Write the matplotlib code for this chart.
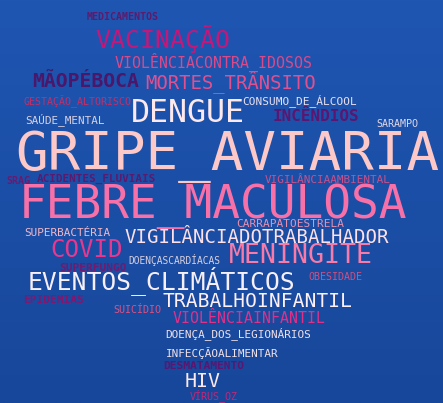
import numpy as np
import matplotlib
matplotlib.use("Agg")
import matplotlib.pyplot as plt
from matplotlib.colors import LinearSegmentedColormap

# words and their weights (font size in pt)
words = ["MEDICAMENTOS", "VACINAÇÃO", "VIOLÊNCIACONTRA_IDOSOS", "MÃOPÉBOCA",
         "MORTES_TRÂNSITO", "GESTAÇÃO_ALTORISCO", "DENGUE", "CONSUMO_DE_ÁLCOOL",
         "SAÚDE_MENTAL", "INCÊNDIOS", "SARAMPO", "GRIPE_AVIARIA", "SRAG",
         "ACIDENTES_FLUVIAIS", "VIGILÂNCIAAMBIENTAL", "FEBRE_MACULOSA",
         "CARRAPATOESTRELA", "SUPERBACTÉRIA", "VIGILÂNCIADOTRABALHADOR", "COVID",
         "MENINGITE", "DOENÇASCARDÍACAS", "SUPERFUNGO", "EVENTOS_CLIMÁTICOS",
         "OBESIDADE", "EPIDEMIAS", "TRABALHOINFANTIL", "SUICÍDIO",
         "VIOLÊNCIAINFANTIL", "DOENÇA_DOS_LEGIONÁRIOS", "INFECÇÃOALIMENTAR",
         "DESMATAMENTO", "HIV", "VÍRUS_OZ"]
weights = [7.2, 17.9, 10.7, 14.2, 13.6, 7.1, 22.8, 8.0, 7.9, 11.5, 7.2, 39.0, 7.2,
           7.9, 7.9, 33.2, 8.0, 7.9, 13.7, 17.3, 19.2, 6.9, 8.0, 17.7, 7.2, 8.0,
           14.1, 7.2, 10.7, 7.9, 7.9, 8.1, 14.3, 7.2]
colors = ["#5e1a6c", "#c2187a", "#d84a8a", "#4a176a", "#e0508e", "#c0306a",
          "#fde8ec", "#e8e0f0", "#d8d0e0", "#5a1670", "#e0d8e8", "#fcc8c8",
          "#6a1a70", "#5a1a6e", "#c8508a", "#f870a8", "#e890b0", "#f0b8c8",
          "#fde0e8", "#e8388e", "#f87aa8", "#d8d0e0", "#701a70", "#f8f0f8",
          "#d05080", "#801870", "#fef0f4", "#e05080", "#e0308a", "#f0e0e8",
          "#f0e0e8", "#5a1670", "#fde8ec", "#c02878"]
bold = {"MÃOPÉBOCA", "INCÊNDIOS", "SRAG", "ACIDENTES_FLUVIAIS", "SUPERFUNGO",
        "EPIDEMIAS", "DESMATAMENTO", "MEDICAMENTOS"}

# layout: left edge and baseline (pixels)
layout = [(87, 20), (97, 48), (115, 68), (33, 87), (146, 88), (24, 105),
          (132, 122), (243, 104), (26, 123), (273, 121), (377, 127), (18, 170),
          (7, 184), (37, 182), (265, 183), (21, 218), (237, 227), (25, 236),
          (125, 243), (52, 257), (230, 263), (129, 264), (60, 271), (29, 289),
          (309, 280), (24, 303), (163, 307), (114, 313), (173, 323), (166, 337),
          (166, 357), (164, 369), (186, 387), (190, 399)]

W, H = 443, 403
fig = plt.figure(figsize=(W / 100, H / 100), dpi=100)
ax = fig.add_axes([0, 0, 1, 1])
ax.set_xlim(0, W)
ax.set_ylim(H, 0)
ax.axis("off")

bg = LinearSegmentedColormap.from_list("bg", ["#1f56b2", "#17479a"])
grad = np.linspace(0, 1, 256).reshape(-1, 1)
ax.imshow(grad, cmap=bg, extent=[0, W, H, 0], aspect="auto", zorder=0)

for word, size, col, (x, y) in zip(words, weights, colors, layout):
    em = size / 0.72
    ax.text(x - 0.05 * em, y, word, fontsize=size, color=col,
            family="DejaVu Sans Mono", ha="left", va="baseline",
            fontweight="bold" if word in bold else "normal")

fig.savefig("out.png", dpi=100)
